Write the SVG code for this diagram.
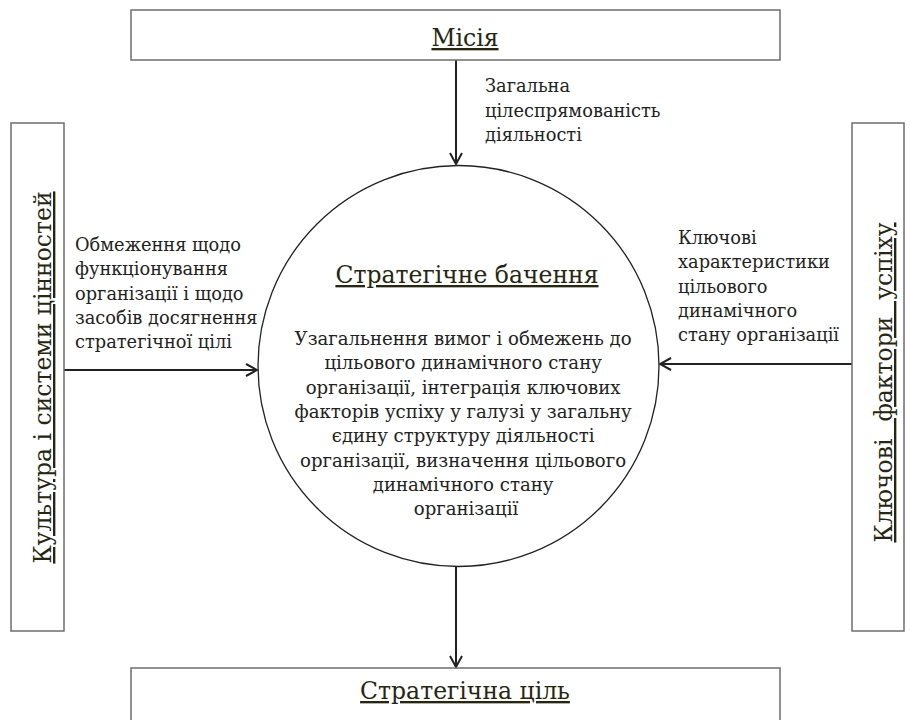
<svg xmlns="http://www.w3.org/2000/svg" width="910" height="720" viewBox="0 0 910 720">
<style>
.box{fill:#fff;stroke:#6e6e6e;stroke-width:1.5}
.title{font-family:'DejaVu Serif',serif;font-size:23.5px;fill:#262612;text-decoration:underline}
.lbl{font-family:'DejaVu Serif',serif;font-size:17.8px;fill:#222}
.body{font-family:'DejaVu Serif',serif;font-size:18.1px;fill:#222;text-anchor:middle}
.con{stroke:#222;stroke-width:2;fill:none}
</style>
<defs>
<marker id="arr" viewBox="0 0 14 14" refX="13" refY="7" markerWidth="14" markerHeight="14" markerUnits="userSpaceOnUse" orient="auto">
<path d="M2,1 L13,7 L2,13" fill="none" stroke="#222" stroke-width="2"/>
</marker>
</defs>
<rect width="910" height="720" fill="#fff"/>
<g id="connectors">
<line class="con" x1="456" y1="60" x2="456" y2="164" marker-end="url(#arr)"/>
<line class="con" x1="64" y1="370" x2="257" y2="370" marker-end="url(#arr)"/>
<line class="con" x1="852" y1="364" x2="660" y2="364" marker-end="url(#arr)"/>
<line class="con" x1="456" y1="567" x2="456" y2="667" marker-end="url(#arr)"/>
</g>
<g id="mission">
<rect class="box" x="131" y="10" width="649" height="50"/>
<text class="title" x="465" y="46" text-anchor="middle">Місія</text>
</g>
<g id="culture">
<rect class="box" x="11" y="123" width="53" height="508"/>
<text class="title" transform="translate(51,377.5) rotate(-90)" text-anchor="middle">Культура і системи цінностей</text>
</g>
<g id="factors">
<rect class="box" x="852" y="123" width="52" height="508"/>
<text class="title" transform="translate(892,382.5) rotate(-90)" text-anchor="middle" xml:space="preserve" word-spacing="1">Ключові  фактори  успіху</text>
</g>
<g id="vision">
<circle cx="458.5" cy="366" r="200.5" fill="#fff" stroke="#222" stroke-width="1.3"/>
<text class="title" x="467" y="283" text-anchor="middle">Стратегічне бачення</text>
<text class="body">
<tspan x="466" y="345">Узагальнення вимог і обмежень до</tspan>
<tspan x="466" y="369.3">цільового динамічного стану</tspan>
<tspan x="466" y="393.6">організації, інтеграція ключових</tspan>
<tspan x="466" y="417.9">факторів успіху у галузі у загальну</tspan>
<tspan x="466" y="442.2">єдину структуру діяльності</tspan>
<tspan x="466" y="466.5">організації, визначення цільового</tspan>
<tspan x="466" y="490.8">динамічного стану</tspan>
<tspan x="466" y="515.1">організації</tspan>
</text>
</g>
<g id="goal">
<rect class="box" x="131" y="668" width="649" height="70"/>
<text class="title" x="465" y="699" text-anchor="middle">Стратегічна ціль</text>
</g>
<g id="labels">
<text class="lbl">
<tspan x="485" y="92">Загальна</tspan>
<tspan x="485" y="116.5">цілеспрямованість</tspan>
<tspan x="485" y="141">діяльності</tspan>
</text>
<text class="lbl">
<tspan x="75" y="251">Обмеження щодо</tspan>
<tspan x="75" y="275.3">функціонування</tspan>
<tspan x="75" y="299.6">організації і щодо</tspan>
<tspan x="75" y="323.9">засобів досягнення</tspan>
<tspan x="75" y="348.2">стратегічної цілі</tspan>
</text>
<text class="lbl">
<tspan x="678" y="244">Ключові</tspan>
<tspan x="678" y="268.3">характеристики</tspan>
<tspan x="678" y="292.6">цільового</tspan>
<tspan x="678" y="316.9">динамічного</tspan>
<tspan x="678" y="341.2">стану організації</tspan>
</text>
</g>
</svg>
